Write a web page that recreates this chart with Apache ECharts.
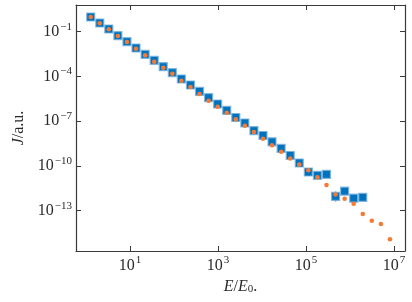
<!DOCTYPE html>
<html>
<head>
<meta charset="utf-8">
<script src="https://cdn.jsdelivr.net/npm/echarts@6/dist/echarts.min.js"></script>
<style>html,body{margin:0;padding:0;background:#fff}#c{width:412px;height:302px}</style>
</head>
<body>
<div id="c"></div>
<script>
// Energy values E/E0 (shared by both series)
const E = [1.28, 2.06, 3.30, 5.31, 8.53, 13.7, 22.1, 35.5, 57.0, 91.6,
  147, 237, 380, 611, 982, 1580, 2540, 4080, 6560, 10540,
  16900, 27200, 43800, 70300, 113000, 182000, 292000, 470000, 755000, 1213000,
  1950000, 3130000, 5040000, 8090000];
// Blue squares (J, a.u.)
const J_blue = [0.966, 0.383, 0.152, 0.0540, 0.0214, 8.09e-3, 3.06e-3, 1.21e-3, 4.51e-4, 1.79e-4,
  6.76e-5, 2.68e-5, 1.01e-5, 3.77e-6, 1.43e-6, 5.39e-7, 1.77e-7, 7.60e-8, 2.32e-8, 1.10e-8,
  4.18e-9, 1.49e-9, 5.04e-10, 1.58e-10, 3.95e-11, 2.37e-11, 2.77e-11, 9.28e-13, 2.04e-12, 6.92e-13,
  7.96e-13];
// Orange dots (J, a.u.)
const J_orange = [0.966, 0.366, 0.145, 0.0515, 0.0204, 7.26e-3, 2.62e-3, 9.75e-4, 3.86e-4, 1.53e-4,
  5.12e-5, 1.97e-5, 6.67e-6, 2.37e-6, 9.40e-7, 3.72e-7, 1.35e-7, 4.93e-8, 1.90e-8, 6.64e-9,
  2.47e-9, 8.92e-10, 3.17e-10, 1.26e-10, 5.13e-11, 1.74e-11, 5.31e-12, 1.22e-12, 6.41e-13, 2.96e-13,
  6.05e-14, 2.15e-14, 1.29e-14, 1.22e-15];
// Error bar on blue point index 27: [index, low J, high J]
const errBars = [[27, 4.2e-13, 1.9e-12]];
// Tick decades
const xTickExp = [1, 3, 5, 7];
const yTickExp = [-13, -10, -7, -4, -1];

const L = Math.log10;
const blueData = J_blue.map((j, i) => [L(E[i]), L(j)]);
const orangeData = J_orange.map((j, i) => [L(E[i]), L(j)]);
const errData = errBars.map(e => [L(E[e[0]]), L(e[1]), L(e[2])]);

const FONT = 'Liberation Serif';
const AX = '#3a3a3a';
const TXT = '#2a2a2a';
const rich = {
  b: {fontFamily: FONT, fontSize: 16, color: TXT},
  s: {fontFamily: FONT, fontSize: 11, color: TXT, padding: [0, 0, 10, 1]}
};
function fmt(v) {
  const e = Math.round(v);
  return '{b|10}{s|' + (e < 0 ? '\u2212' + (-e) : e) + '}';
}
function axisCommon(ticks) {
  return {
    type: 'value',
    axisLine: {show: true, onZero: false, lineStyle: {color: AX, width: 1.2}},
    axisTick: {show: true, inside: true, length: 5, customValues: ticks, lineStyle: {color: AX, width: 1}},
    splitLine: {show: false},
    minorTick: {show: false}
  };
}
const xMin = -0.227, xMax = 7.25, yMin = -15.7, yMax = 0.79;

const option = {
  animation: false,
  backgroundColor: '#fff',
  grid: {left: 76, top: 5, right: 7, bottom: 51},
  xAxis: [
    Object.assign(axisCommon(xTickExp), {
      position: 'bottom', min: xMin, max: xMax,
      axisLabel: {customValues: xTickExp, formatter: fmt, rich: rich, margin: 4},
      name: '{i|E}{n|/}{i|E}{sub|0}{n|.}', nameLocation: 'middle', nameGap: 25,
      nameTextStyle: {rich: {
        i: {fontFamily: FONT, fontStyle: 'italic', fontSize: 16, color: TXT},
        n: {fontFamily: FONT, fontSize: 16, color: TXT},
        sub: {fontFamily: FONT, fontSize: 11, color: TXT, padding: [6, 0, 0, 0]}
      }}
    }),
    Object.assign(axisCommon(xTickExp), {
      position: 'top', min: xMin, max: xMax, axisLabel: {show: false}
    })
  ],
  yAxis: [
    Object.assign(axisCommon(yTickExp), {
      position: 'left', min: yMin, max: yMax,
      axisLabel: {customValues: yTickExp, formatter: fmt, rich: rich, margin: 4},
      name: '{i|J}{n|/a.u.}', nameLocation: 'middle', nameGap: 45, nameRotate: 90,
      nameTextStyle: {rich: {
        i: {fontFamily: FONT, fontStyle: 'italic', fontSize: 16, color: TXT},
        n: {fontFamily: FONT, fontSize: 16, color: TXT}
      }}
    }),
    Object.assign(axisCommon(yTickExp), {
      position: 'right', min: yMin, max: yMax, axisLabel: {show: false}
    })
  ],
  series: [
    {
      type: 'custom',
      xAxisIndex: 0, yAxisIndex: 0,
      data: errData,
      z: 1,
      renderItem: function (params, api) {
        const p1 = api.coord([api.value(0), api.value(1)]);
        const p2 = api.coord([api.value(0), api.value(2)]);
        return {type: 'line', shape: {x1: p1[0], y1: p1[1], x2: p2[0], y2: p2[1]},
          style: {stroke: '#0072bd', lineWidth: 1.5}};
      }
    },
    {
      type: 'scatter', data: blueData, symbol: 'rect', symbolSize: 8, z: 2,
      itemStyle: {color: '#0072bd', borderColor: 'rgba(120,178,220,0.85)', borderWidth: 1.2, opacity: 1}
    },
    {
      type: 'scatter', data: orangeData, symbol: 'circle', symbolSize: 4.6, z: 3,
      itemStyle: {color: '#f47a35', opacity: 1}
    }
  ]
};
const chart = echarts.init(document.getElementById('c'), null, {renderer: 'canvas'});
chart.setOption(option);
</script>
</body>
</html>
